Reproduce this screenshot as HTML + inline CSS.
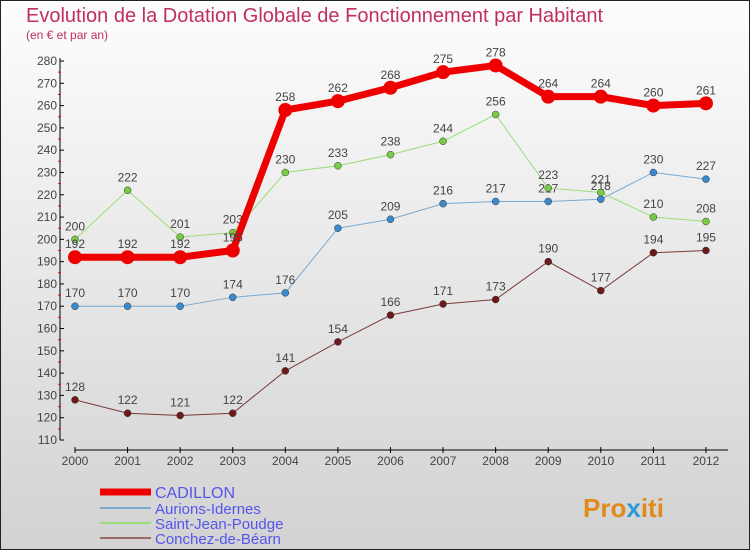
<!DOCTYPE html>
<html><head><meta charset="utf-8"><style>
body{margin:0;width:750px;height:550px;overflow:hidden;font-family:"Liberation Sans",sans-serif}
svg{display:block}
</style></head><body>
<svg id="c" width="750" height="550">
<defs><linearGradient id="bg" x1="0" y1="0" x2="0" y2="1"><stop offset="0" stop-color="#fdfdfd"/><stop offset="1" stop-color="#d2d2d2"/></linearGradient></defs>
<rect x="0.5" y="0.5" width="749" height="549" fill="url(#bg)" stroke="#222"/>
<text x="26" y="22" font-size="20" fill="#c0305a">Evolution de la Dotation Globale de Fonctionnement par Habitant</text>
<text x="26" y="39" font-size="12" fill="#c0305a">(en € et par an)</text>
<g id="axes"></g><g id="series"></g><g id="legend"></g>
<text x="583" y="517" font-size="26" font-weight="bold" fill="#e08a1e">Pro<tspan fill="#2a9ad8">x</tspan>iti</text>
</svg>
<script>
const years=[2000,2001,2002,2003,2004,2005,2006,2007,2008,2009,2010,2011,2012];
const cadillon=[192,192,192,195,258,262,268,275,278,264,264,260,261];
const aurions=[170,170,170,174,176,205,209,216,217,217,218,230,227];
const saintJean=[200,222,201,203,230,233,238,244,256,223,221,210,208];
const conchez=[128,122,121,122,141,154,166,171,173,190,177,194,195];
const yTicks=[110,120,130,140,150,160,170,180,190,200,210,220,230,240,250,260,270,280];
const NS='http://www.w3.org/2000/svg';
const X=i=>75+i*52.58;
const Y=v=>440-(v-110)*(379/170);
function mk(p,t,a){const e=document.createElementNS(NS,t);for(const k in a)e.setAttribute(k,a[k]);p.appendChild(e);return e;}
const ax=document.getElementById('axes');
let yl=mk(ax,'line',{x1:60,y1:58,x2:60,y2:440,stroke:'#000'});


yTicks.forEach(v=>{
 mk(ax,'line',{x1:60,y1:Y(v),x2:64,y2:Y(v),stroke:'#000'});
 if(v<280)mk(ax,'line',{x1:58,y1:Y(v+5),x2:61,y2:Y(v+5),stroke:'#e00'});
 const t=mk(ax,'text',{x:57,y:Y(v)+4,'font-size':12,fill:'#444','text-anchor':'end'});t.textContent=v;
 
 
});
let xl=mk(ax,'line',{x1:75,y1:450,x2:728,y2:450,stroke:'#000'});


years.forEach((y,i)=>{
 mk(ax,'line',{x1:X(i),y1:447,x2:X(i),y2:453,stroke:'#000'});
 const t=mk(ax,'text',{x:X(i),y:465,'font-size':12,fill:'#444','text-anchor':'middle'});t.textContent=y;
 
 
});
const sg=document.getElementById('series');
function series(vals,color,dot,w,r,name){
 const g=mk(sg,'g',{});
 
 
 mk(g,'polyline',{points:vals.map((v,i)=>X(i)+','+Y(v)).join(' '),fill:'none',stroke:color,'stroke-width':w});
 vals.forEach((v,i)=>{
  const c=mk(g,'circle',{cx:X(i),cy:Y(v),r:r,fill:dot,stroke:'#333','stroke-width':r>5?0:0.5});
  
  
  const t=mk(g,'text',{x:X(i),y:Y(v)-9,'font-size':12,fill:'#444','text-anchor':'middle'});t.textContent=v;
  
  
 });
}
series(conchez,'#7a3a3a','#6a1a1a',1,3.5,'conchez-series');
series(aurions,'#7aaad0','#3a8ad0',1,3.5,'aurions-series');
series(saintJean,'#99dd77','#77cc44',1,3.5,'saint-jean-series');
series(cadillon,'#ee0000','#ee0000',7,7,'cadillon-series');
const lg=document.getElementById('legend');
[['CADILLON','#ee0000',7],['Aurions-Idernes','#7aaad0',2],['Saint-Jean-Poudge','#99dd77',2],['Conchez-de-Béarn','#9a6a6a',2]].forEach((d,i)=>{
 const y=[492,508,523,538][i];
 const g=mk(lg,'g',{});
 
 
 mk(g,'line',{x1:100,y1:y,x2:151,y2:y,stroke:d[1],'stroke-width':d[2]});
 const t=mk(g,'text',{x:155,y:y+6,'font-size':i==0?16:15,fill:'#5555ee'});t.textContent=d[0];
});
</script>
</body></html>
